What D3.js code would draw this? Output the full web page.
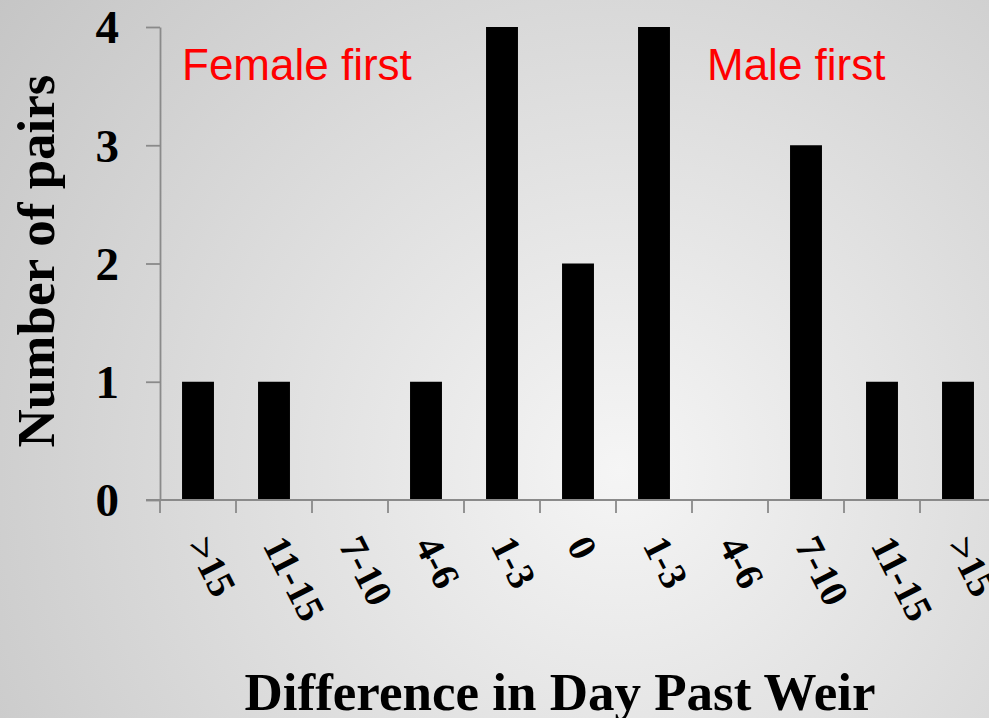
<!DOCTYPE html>
<html>
<head>
<meta charset="utf-8">
<script src="https://cdn.jsdelivr.net/npm/d3@7"></script>
<style>
  html, body { margin: 0; padding: 0; overflow: hidden; }
  svg { display: block; }
</style>
</head>
<body>
<script>
const categories = [">15", "11-15", "7-10", "4-6", "1-3", "0", "1-3", "4-6", "7-10", "11-15", ">15"];
const counts = [1, 1, 0, 1, 4, 2, 4, 0, 3, 1, 1];
const yTicks = [0, 1, 2, 3, 4];
const annotations = ["Female first", "Male first"];
const xTitle = "Difference in Day Past Weir";
const yTitle = "Number of pairs";

const W = 989, H = 718;
const svg = d3.select("body").append("svg").attr("width", W).attr("height", H);

const defs = svg.append("defs");
const grad = defs.append("radialGradient").attr("id", "bg")
  .attr("gradientUnits", "userSpaceOnUse")
  .attr("cx", 620).attr("cy", 470).attr("r", 800);
grad.append("stop").attr("offset", "0").attr("stop-color", "#f5f5f5");
grad.append("stop").attr("offset", "1").attr("stop-color", "#c4c4c4");
svg.append("rect").attr("width", W).attr("height", H).attr("fill", "url(#bg)");

const idx = d3.range(categories.length);
const x = d3.scaleBand().domain(idx).range([160, 996]).padding(0);
const y = d3.scaleLinear().domain([0, 4]).range([500, 27]);
const axisColor = "#8a8a8a";
const serif = "'Liberation Serif', 'Times New Roman', serif";

// bars
const bw = x.bandwidth() * 0.42;
svg.append("g").selectAll("rect").data(idx).join("rect")
  .attr("x", i => x(i) + (x.bandwidth() - bw) / 2)
  .attr("y", i => y(counts[i]))
  .attr("width", bw)
  .attr("height", i => y(0) - y(counts[i]))
  .attr("fill", "#000");

// y axis
const gy = svg.append("g").attr("transform", "translate(160,0)")
  .call(d3.axisLeft(y).tickValues(yTicks).tickFormat(d3.format("d")).tickSize(14).tickSizeOuter(0).tickPadding(27));
gy.select(".domain").attr("stroke", axisColor).attr("stroke-width", 1.8);
gy.selectAll(".tick line").attr("stroke", axisColor).attr("stroke-width", 1.8);
gy.selectAll(".tick text").attr("font-family", serif).attr("font-weight", "bold")
  .attr("font-size", 47).attr("fill", "#000").attr("dy", "0.34em");

// x axis line
svg.append("line").attr("x1", 146).attr("x2", W).attr("y1", y(0)).attr("y2", y(0))
  .attr("stroke", axisColor).attr("stroke-width", 1.8);
// boundary ticks
const bounds = idx.map(i => x(i)).concat([x(idx.length - 1) + x.step()]);
svg.append("g").selectAll("line").data(bounds).join("line")
  .attr("x1", d => d).attr("x2", d => d).attr("y1", y(0)).attr("y2", y(0) + 13)
  .attr("stroke", axisColor).attr("stroke-width", 1.8);

// x tick labels (rotated)
const gx = svg.append("g").attr("transform", `translate(0,${y(0)})`)
  .call(d3.axisBottom(x).tickFormat(i => categories[i]).tickSize(0).tickSizeOuter(0));
gx.select(".domain").remove();
gx.selectAll(".tick text")
  .attr("font-family", serif).attr("font-weight", "bold").attr("font-size", 39).attr("fill", "#000")
  .attr("text-anchor", "start").attr("x", 0).attr("y", 0).attr("dy", "0.34em")
  .attr("transform", "translate(0,39) rotate(63)");

// axis titles
svg.append("text").attr("x", 560).attr("y", 710).attr("text-anchor", "middle")
  .attr("font-family", serif).attr("font-weight", "bold").attr("font-size", 53).attr("fill", "#000")
  .text(xTitle);
svg.append("text").attr("transform", "translate(54,261) rotate(-90)").attr("text-anchor", "middle")
  .attr("font-family", serif).attr("font-weight", "bold").attr("font-size", 53).attr("fill", "#000")
  .text(yTitle);

// annotations
const sans = "'Liberation Sans', Arial, sans-serif";
svg.append("text").attr("x", 182).attr("y", 80).attr("font-family", sans).attr("font-size", 44)
  .attr("fill", "#ff0000").text(annotations[0]);
svg.append("text").attr("x", 707).attr("y", 80).attr("font-family", sans).attr("font-size", 44)
  .attr("fill", "#ff0000").text(annotations[1]);
</script>
</body>
</html>
